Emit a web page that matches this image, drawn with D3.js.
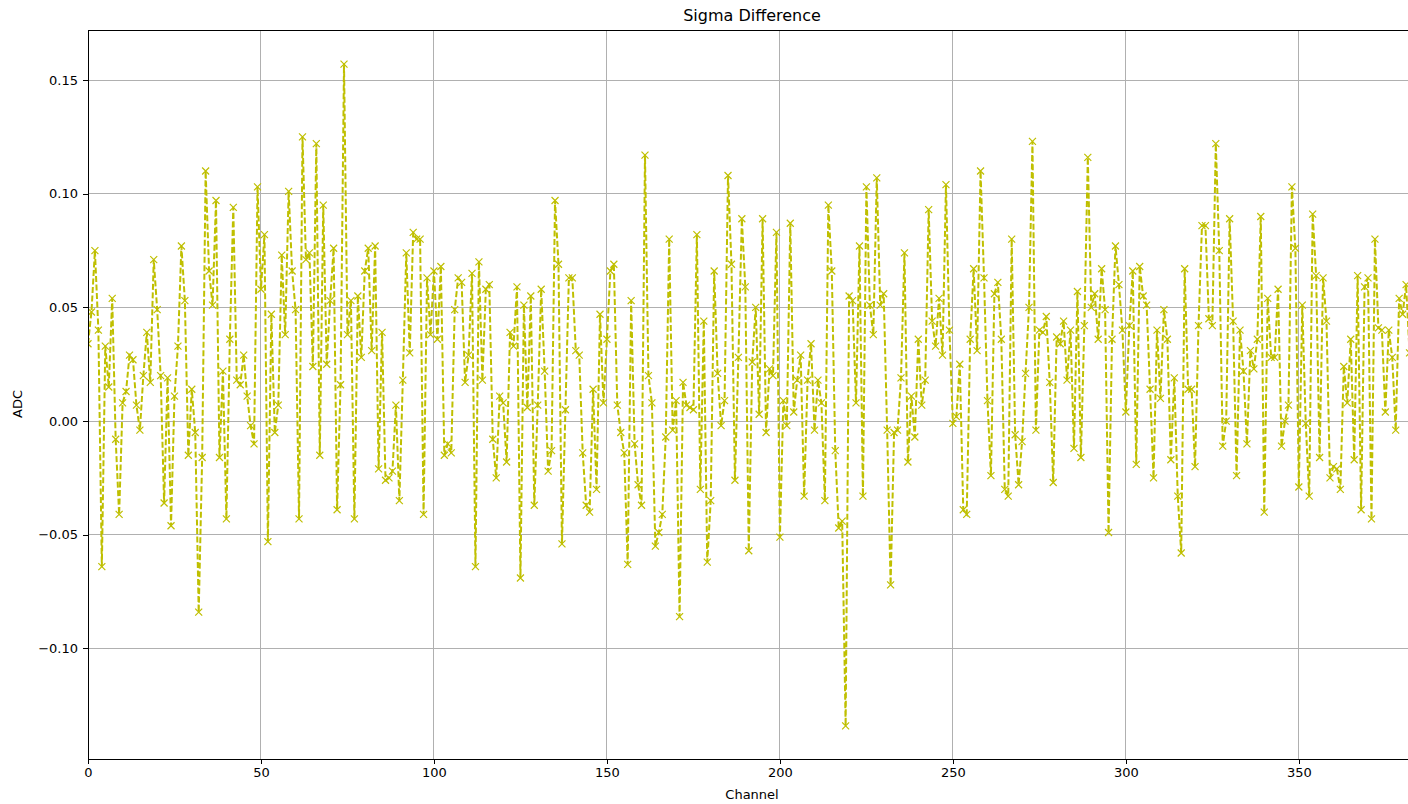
<!DOCTYPE html>
<head>
    <title>Sigma Difference</title>
    <meta charset="utf-8" />
</head>

<style>
    body {
        margin: 0;
        background-color: #ffffff;
        font-family: "DejaVu Sans", sans-serif;
    }

    .grid line {
        stroke: #b0b0b0;
        stroke-width: 1px;
        shape-rendering: crispEdges;
    }

    .axis path {
        display: none;
    }

    .axis line {
        stroke: #000;
        shape-rendering: crispEdges;
    }

    .axis text {
        font-family: "DejaVu Sans", sans-serif;
        font-size: 13px;
        fill: #000;
    }
</style>

<body>
    <svg id="chart" width="1408" height="804"></svg>
    <script src="https://d3js.org/d3.v7.min.js"></script>

    <script>
        // sigma difference per channel (ADC)
        var sigmaDiff = [
            0.034, 0.048, 0.075, 0.040, -0.064, 0.033, 0.015, 0.054, -0.008, -0.041,
            0.008, 0.013, 0.029, 0.027, 0.007, -0.004, 0.020, 0.039, 0.017, 0.071,
            0.049, 0.020, -0.036, 0.019, -0.046, 0.011, 0.033, 0.077, 0.053, -0.015,
            0.014, -0.005, -0.084, -0.016, 0.110, 0.066, 0.051, 0.097, -0.016, 0.022,
            -0.043, 0.036, 0.094, 0.018, 0.016, 0.029, 0.011, -0.002, -0.010, 0.103,
            0.058, 0.082, -0.053, 0.047, -0.005, 0.007, 0.073, 0.038, 0.101, 0.066,
            0.049, -0.043, 0.125, 0.071, 0.074, 0.024, 0.122, -0.015, 0.095, 0.025,
            0.053, 0.076, -0.039, 0.016, 0.157, 0.038, 0.053, -0.043, 0.055, 0.028,
            0.066, 0.076, 0.031, 0.077, -0.021, 0.039, -0.026, -0.025, -0.022, 0.007,
            -0.035, 0.018, 0.074, 0.030, 0.083, 0.080, 0.080, -0.041, 0.063, 0.038,
            0.066, 0.036, 0.068, -0.015, -0.010, -0.014, 0.049, 0.063, 0.061, 0.017,
            0.029, 0.065, -0.064, 0.070, 0.018, 0.058, 0.060, -0.008, -0.025, 0.011,
            0.008, -0.018, 0.039, 0.033, 0.059, -0.069, 0.051, 0.006, 0.055, -0.037,
            0.007, 0.058, 0.022, -0.022, -0.013, 0.097, 0.069, -0.054, 0.005, 0.063,
            0.063, 0.031, 0.029, -0.014, -0.037, -0.040, 0.014, -0.030, 0.047, 0.008,
            0.036, 0.066, 0.069, 0.007, -0.005, -0.014, -0.063, 0.053, -0.010, -0.028,
            -0.037, 0.117, 0.020, 0.008, -0.055, -0.049, -0.041, -0.007, 0.080, -0.004,
            0.009, -0.086, 0.017, 0.007, 0.006, 0.005, 0.082, -0.030, 0.044, -0.062,
            -0.035, 0.066, 0.021, -0.002, 0.009, 0.108, 0.069, -0.026, 0.028, 0.089,
            0.059, -0.057, 0.026, 0.050, 0.003, 0.089, -0.005, 0.023, 0.020, 0.083,
            -0.051, 0.009, -0.002, 0.087, 0.004, 0.018, 0.029, -0.033, 0.018, 0.034,
            -0.004, 0.018, 0.008, -0.035, 0.095, 0.066, -0.013, -0.047, -0.044, -0.134,
            0.055, 0.053, 0.008, 0.077, -0.033, 0.103, 0.051, 0.038, 0.107, 0.051,
            0.056, -0.004, -0.072, -0.005, -0.004, 0.019, 0.074, -0.018, 0.011, -0.007,
            0.036, 0.007, 0.018, 0.093, 0.044, 0.033, 0.054, 0.029, 0.104, 0.040,
            -0.001, 0.002, 0.025, -0.039, -0.041, 0.036, 0.067, 0.031, 0.110, 0.063,
            0.009, -0.024, 0.056, 0.061, 0.036, -0.030, -0.033, 0.080, -0.006, -0.028,
            -0.009, 0.021, 0.050, 0.123, -0.004, 0.040, 0.039, 0.046, 0.017, -0.027,
            0.037, 0.034, 0.044, 0.018, 0.040, -0.012, 0.057, -0.016, 0.042, 0.116,
            0.050, 0.056, 0.036, 0.067, 0.049, -0.049, 0.036, 0.077, 0.060, 0.040,
            0.004, 0.042, 0.066, -0.019, 0.068, 0.055, 0.051, 0.014, -0.025, 0.040,
            0.010, 0.049, 0.036, -0.017, 0.019, -0.033, -0.058, 0.067, 0.014, 0.014,
            -0.020, 0.042, 0.086, 0.086, 0.045, 0.042, 0.122, 0.075, -0.011, 0.000,
            0.089, 0.044, -0.024, 0.040, 0.022, -0.010, 0.031, 0.023, 0.036, 0.090,
            -0.040, 0.054, 0.028, 0.028, 0.058, -0.011, 0.000, 0.007, 0.103, 0.076,
            -0.029, 0.051, -0.001, -0.033, 0.091, 0.064, -0.016, 0.063, 0.044, -0.025,
            -0.020, -0.021, -0.030, 0.024, 0.008, 0.036, -0.017, 0.064, -0.039, 0.059,
            0.063, -0.043, 0.080, 0.041, 0.040, 0.004, 0.040, 0.028, -0.004, 0.054,
            0.047, 0.060, 0.030, 0.050
        ];
        var channels = sigmaDiff.map(function(d, i) { return i; });
        var xTicks = [0, 50, 100, 150, 200, 250, 300, 350];
        var yTicks = [-0.10, -0.05, 0.00, 0.05, 0.10, 0.15];

        var margin = { top: 30, right: 0, bottom: 45, left: 88 };
        var plotW = 1325, plotH = 729;

        var svg = d3.select("#chart");
        var g = svg.append("g")
            .attr("transform", "translate(" + margin.left + "," + margin.top + ")");

        var x = d3.scaleLinear().domain([0, 383]).range([0, plotW]);
        var y = d3.scaleLinear().domain([-0.1486, 0.172]).range([plotH, 0]);

        var fmtY = function(d) { return d3.format(".2f")(d).replace("-", "\u2212"); };

        // grid
        g.append("g").attr("class", "grid")
            .selectAll("line").data(xTicks).enter().append("line")
            .attr("x1", function(d) { return x(d); })
            .attr("x2", function(d) { return x(d); })
            .attr("y1", 0).attr("y2", plotH);
        g.append("g").attr("class", "grid")
            .selectAll("line").data(yTicks).enter().append("line")
            .attr("x1", 0).attr("x2", plotW)
            .attr("y1", function(d) { return y(d); })
            .attr("y2", function(d) { return y(d); });

        // data
        g.append("clipPath").attr("id", "clip")
            .append("rect").attr("width", plotW).attr("height", plotH);

        var plot = g.append("g").attr("clip-path", "url(#clip)");

        var line = d3.line()
            .x(function(d, i) { return x(channels[i]); })
            .y(function(d) { return y(d); });

        plot.append("path")
            .datum(sigmaDiff)
            .attr("fill", "none")
            .attr("stroke", "#bfbf00")
            .attr("stroke-width", 2)
            .attr("stroke-dasharray", "6,2.5")
            .attr("d", line);

        var s = 3.5;
        plot.selectAll(".mark")
            .data(sigmaDiff)
            .enter().append("path")
            .attr("class", "mark")
            .attr("transform", function(d, i) { return "translate(" + x(channels[i]) + "," + y(d) + ")"; })
            .attr("d", "M" + (-s) + "," + (-s) + "L" + s + "," + s + "M" + (-s) + "," + s + "L" + s + "," + (-s))
            .attr("stroke", "#bfbf00")
            .attr("stroke-width", 1.2)
            .attr("fill", "none");

        // axes
        g.append("g").attr("class", "axis")
            .attr("transform", "translate(0," + plotH + ")")
            .call(d3.axisBottom(x).tickValues(xTicks).tickSize(5).tickPadding(4));
        g.append("g").attr("class", "axis")
            .call(d3.axisLeft(y).tickValues(yTicks).tickSize(5).tickPadding(5).tickFormat(fmtY));

        // spines
        g.append("line").attr("x1", 0).attr("x2", 0).attr("y1", 0).attr("y2", plotH)
            .attr("stroke", "#000").attr("stroke-width", 1).attr("shape-rendering", "crispEdges");
        g.append("line").attr("x1", 0).attr("x2", plotW).attr("y1", 0).attr("y2", 0)
            .attr("stroke", "#000").attr("stroke-width", 1).attr("shape-rendering", "crispEdges");
        g.append("line").attr("x1", 0).attr("x2", plotW).attr("y1", plotH).attr("y2", plotH)
            .attr("stroke", "#000").attr("stroke-width", 1).attr("shape-rendering", "crispEdges");

        // labels
        svg.append("text")
            .attr("x", 752).attr("y", 21)
            .attr("text-anchor", "middle")
            .attr("font-size", "16px")
            .text("Sigma Difference");

        svg.append("text")
            .attr("x", 752).attr("y", 799)
            .attr("text-anchor", "middle")
            .attr("font-size", "13px")
            .text("Channel");

        svg.append("text")
            .attr("transform", "translate(22,404) rotate(-90)")
            .attr("text-anchor", "middle")
            .attr("font-size", "13px")
            .text("ADC");
    </script>
</body>
